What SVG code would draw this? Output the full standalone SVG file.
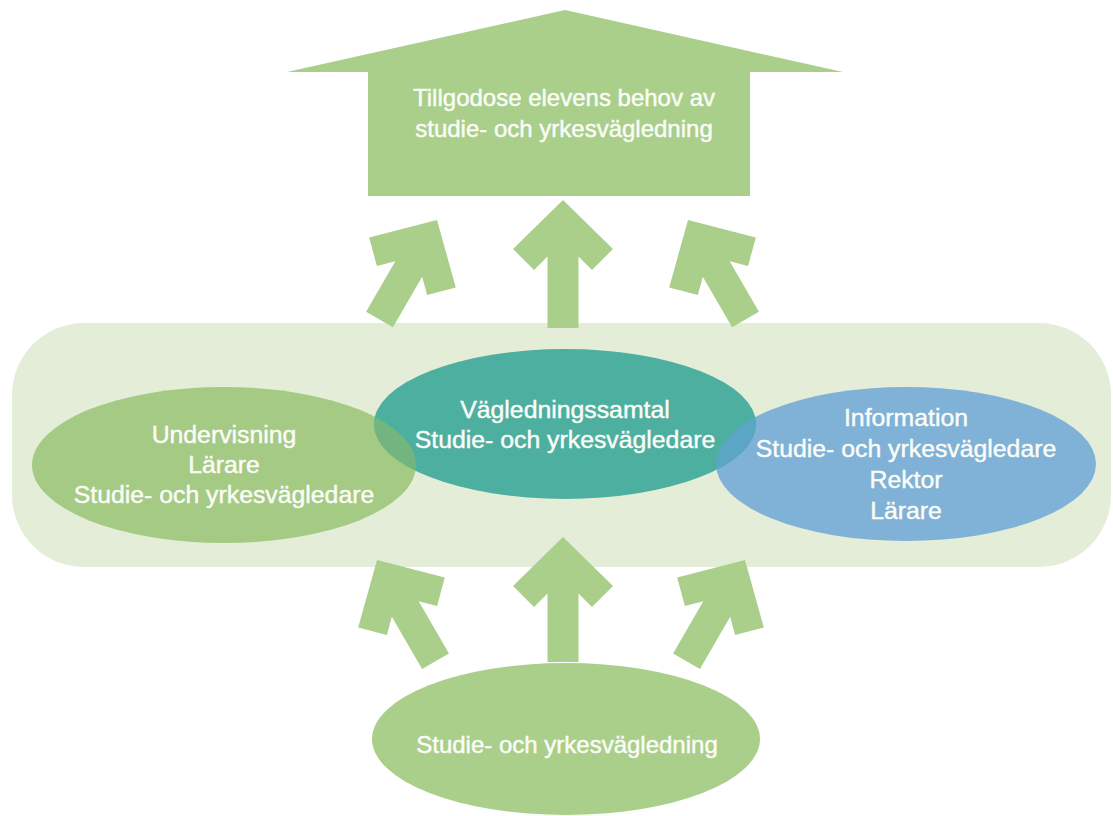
<svg xmlns="http://www.w3.org/2000/svg" width="1113" height="816" viewBox="0 0 1113 816">
  <defs>
    <style>
      .lbl { font-family: "Liberation Sans", Arial, sans-serif; font-size: 24px; fill: #fbfcf8; stroke: #fbfcf8; stroke-width: 0.45px; text-anchor: middle; }
      .lbl2 { font-size: 24.8px; }
      .grn { fill: #a9cf8a; }
    </style>
    <clipPath id="clipCenter">
      <ellipse cx="565" cy="424" rx="191" ry="75"/>
    </clipPath>
  </defs>
  <rect x="0" y="0" width="1113" height="816" fill="#ffffff"/>

  <g id="band">
    <rect x="12" y="323" width="1099" height="244" rx="72" ry="72" fill="#e3edd7"/>
  </g>

  <g id="connectors" class="grn">
    <path id="up-center-top" d="M0,0 L50,49 L29,70 L15.5,56.5 L15.5,128 L-15.5,128 L-15.5,56.5 L-29,70 L-50,49 Z" transform="translate(563,200)"/>
    <path id="up-left-top" d="M0,0 L50,49 L29,70 L15.5,56.5 L15.5,115 L-15.5,115 L-15.5,56.5 L-29,70 L-50,49 Z" transform="translate(437,220) rotate(30)"/>
    <path id="up-right-top" d="M0,0 L50,49 L29,70 L15.5,56.5 L15.5,115 L-15.5,115 L-15.5,56.5 L-29,70 L-50,49 Z" transform="translate(688,220) rotate(-30)"/>
    <path id="up-center-bottom" d="M0,0 L50,49 L29,70 L15.5,56.5 L15.5,125 L-15.5,125 L-15.5,56.5 L-29,70 L-50,49 Z" transform="translate(563,537)"/>
    <path id="up-left-bottom" d="M0,0 L50,49 L29,70 L15.5,56.5 L15.5,117 L-15.5,117 L-15.5,56.5 L-29,70 L-50,49 Z" transform="translate(377,560) rotate(-30)"/>
    <path id="up-right-bottom" d="M0,0 L50,49 L29,70 L15.5,56.5 L15.5,117 L-15.5,117 L-15.5,56.5 L-29,70 L-50,49 Z" transform="translate(745,560) rotate(30)"/>
  </g>

  <g id="goal">
    <polygon class="grn" points="565,10 843,72 750,72 750,196 368,196 368,72 287,72"/>
    <text class="lbl" x="564" y="106">Tillgodose elevens behov av</text>
    <text class="lbl" x="564" y="137">studie- och yrkesvägledning</text>
  </g>

  <g id="undervisning">
    <ellipse cx="224" cy="465" rx="192" ry="78" fill="#a4ca84"/>
  </g>

  <g id="information">
    <ellipse cx="906" cy="464" rx="190" ry="77" fill="#80b1d6"/>
  </g>

  <g id="vagledningssamtal">
    <ellipse cx="565" cy="424" rx="191" ry="75" fill="#4daf9f"/>
    <ellipse cx="224" cy="465" rx="192" ry="78" fill="#72b57f" clip-path="url(#clipCenter)"/>
    <ellipse cx="906" cy="464" rx="190" ry="77" fill="#5ba5c5" clip-path="url(#clipCenter)"/>
  </g>

  <g id="labels-band">
    <text class="lbl lbl2" x="224" y="443">Undervisning</text>
    <text class="lbl lbl2" x="224" y="473">Lärare</text>
    <text class="lbl lbl2" x="224" y="503">Studie- och yrkesvägledare</text>
    <text class="lbl lbl2" x="565" y="418">Vägledningssamtal</text>
    <text class="lbl lbl2" x="565" y="448">Studie- och yrkesvägledare</text>
    <text class="lbl lbl2" x="906" y="426">Information</text>
    <text class="lbl lbl2" x="906" y="457">Studie- och yrkesvägledare</text>
    <text class="lbl lbl2" x="906" y="488">Rektor</text>
    <text class="lbl lbl2" x="906" y="519">Lärare</text>
  </g>

  <g id="source">
    <ellipse class="grn" cx="566" cy="739" rx="194" ry="76"/>
    <text class="lbl" x="567" y="753">Studie- och yrkesvägledning</text>
  </g>
</svg>
